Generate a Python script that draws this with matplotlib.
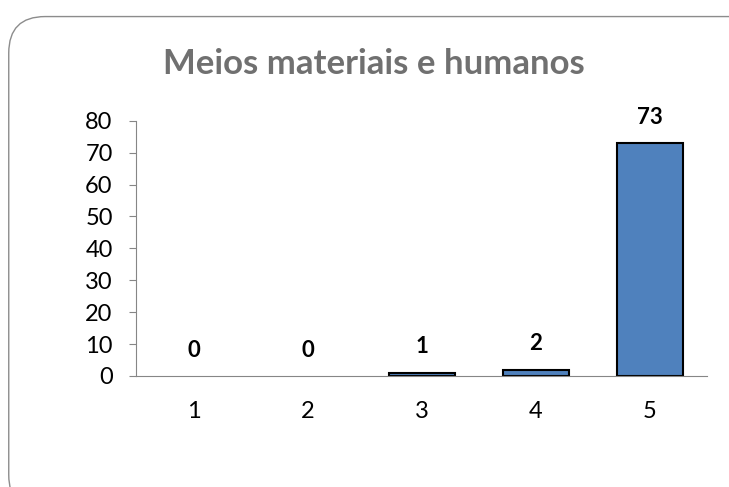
import matplotlib.pyplot as plt
from matplotlib.patches import FancyBboxPatch

# Chart data
categories = ['1', '2', '3', '4', '5']
values = [0, 0, 1, 2, 73]
y_ticks = [0, 10, 20, 30, 40, 50, 60, 70, 80]

plt.rcParams['font.family'] = ['Lato', 'DejaVu Sans']

fig = plt.figure(figsize=(7.29, 4.87), dpi=100)

# Rounded chart border like an Excel chart area
border = FancyBboxPatch((0.012, -0.05), 1.05, 1.016,
                        boxstyle='round,pad=0,rounding_size=0.05',
                        transform=fig.transFigure, fill=False,
                        edgecolor='#8c8c8c', linewidth=1.0,
                        mutation_aspect=729 / 487)
fig.patches.append(border)

ax = fig.add_axes([0.187, 0.228, 0.783, 0.524])
x = range(len(categories))
# zero-height bars are not drawn at all in the original
widths = [1.5 if v > 0 else 0 for v in values]
bars = ax.bar(x, values, width=0.58, color='#4f81bd', edgecolor='black', linewidth=widths)

for xi, v in zip(x, values):
    ax.annotate(str(v), (xi, v), xytext=(0, 11), textcoords='offset points',
                ha='center', va='bottom', fontsize=16, fontweight='bold')

ax.set_xlim(-0.5, len(categories) - 0.5)
ax.set_ylim(0, 80)
ax.set_yticks(y_ticks)
ax.set_xticks(list(x))
ax.set_xticklabels(categories)
ax.tick_params(axis='y', labelsize=17, length=5, color='#868686', pad=12)
ax.tick_params(axis='x', labelsize=17, length=0, pad=18)

for side in ['top', 'right']:
    ax.spines[side].set_visible(False)
for side in ['left', 'bottom']:
    ax.spines[side].set_color('#868686')

fig.text(0.513, 0.868, 'Meios materiais e humanos', ha='center', va='center',
         fontsize=25, fontweight='bold', color='#707070')

fig.savefig('out.png', dpi=100)
